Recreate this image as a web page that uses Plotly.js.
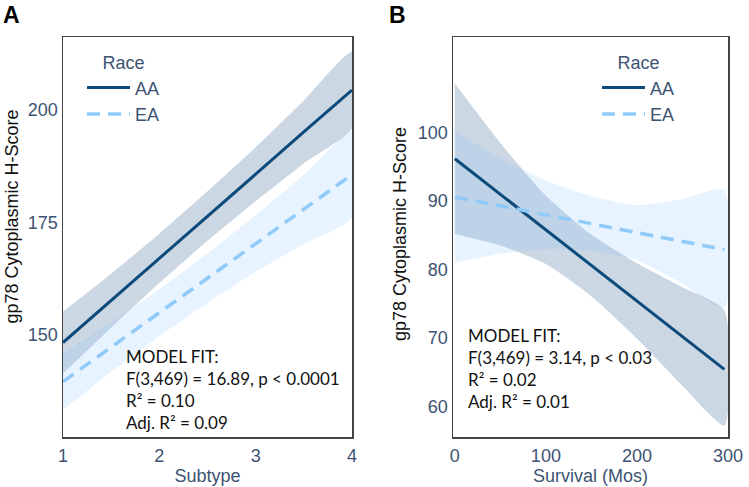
<!DOCTYPE html>
<html>
<head>
<meta charset="utf-8">
<script src="https://cdn.plot.ly/plotly-3.0.1.min.js"></script>
<style>
  html, body { margin: 0; padding: 0; background: #fff; }
  #chart { width: 749px; height: 487px; }
</style>
</head>
<body>
<div id="chart"></div>
<script>
// panel A: gp78 vs subtype
const subtype = [1, 1.5, 2, 2.5, 3, 3.5, 4];
const aaFitA = [148.3, 157.6, 167.0, 176.4, 185.7, 195.1, 204.4];
const aaHiA  = [155.2, 163.6, 172.5, 181.9, 191.7, 202.1, 212.9];
const aaLoA  = [141.4, 151.6, 161.5, 170.9, 179.7, 188.1, 195.9];
const eaFitA = [139.6, 147.3, 154.9, 162.6, 170.3, 177.9, 185.6];
const eaHiA  = [145.9, 152.8, 160.1, 168.1, 176.6, 185.6, 195.1];
const eaLoA  = [133.3, 141.8, 149.7, 157.1, 164.0, 170.2, 176.1];

// panel B: gp78 vs survival
const survival = [0, 50, 100, 150, 200, 250, 296];
const aaFitB = [96.2, 91.0, 85.8, 80.6, 75.4, 70.2, 65.4];
const aaHiB  = [107.2, 98.5, 90.8, 85.1, 80.9, 77.4, 74.0];
const aaLoB  = [85.2, 83.5, 80.8, 76.1, 69.9, 63.0, 57.2];
const eaFitB = [90.6, 89.3, 88.0, 86.7, 85.4, 84.1, 82.9];
const eaHiB  = [100.2, 96.3, 93.0, 90.7, 89.4, 90.3, 91.6];
const eaLoB  = [81.0, 82.3, 83.0, 82.7, 81.4, 77.9, 74.4];

const fitTextA = ['MODEL FIT:', 'F(3,469) = 16.89, p < 0.0001', 'R² = 0.10', 'Adj. R² = 0.09'];
const fitTextB = ['MODEL FIT:', 'F(3,469) = 3.14, p < 0.03', 'R² = 0.02', 'Adj. R² = 0.01'];
const yTitle = 'gp78 Cytoplasmic H-Score';

const AA_COLOR = '#0c4a7c';
const EA_COLOR = '#90caf9';
const AA_BAND = 'rgba(70,110,150,0.28)';
const EA_BAND = 'rgba(144,202,249,0.22)';
const TICK = '#3d5373';
const FONT = 'Liberation Sans, Arial';

function band(xs, hi, lo, color, xa, ya) {
  return {
    x: xs.concat(xs.slice().reverse()),
    y: hi.concat(lo.slice().reverse()),
    fill: 'toself', fillcolor: color,
    line: { width: 0, shape: 'spline', smoothing: 0.6 },
    mode: 'lines', hoverinfo: 'skip', showlegend: false,
    xaxis: xa, yaxis: ya
  };
}

function fitLine(xs, ys, name, color, dash, xa, ya, leg) {
  return {
    x: xs, y: ys, mode: 'lines', name: name,
    line: { color: color, width: dash ? 3.5 : 3, dash: dash || 'solid' },
    xaxis: xa, yaxis: ya, legend: leg
  };
}

const traces = [
  band(subtype, aaHiA, aaLoA, AA_BAND, 'x', 'y'),
  band(subtype, eaHiA, eaLoA, EA_BAND, 'x', 'y'),
  fitLine(subtype, aaFitA, 'AA', AA_COLOR, null, 'x', 'y', 'legend'),
  fitLine(subtype, eaFitA, 'EA', EA_COLOR, '13px,8px', 'x', 'y', 'legend'),
  band(survival, aaHiB, aaLoB, AA_BAND, 'x2', 'y2'),
  band(survival, eaHiB, eaLoB, EA_BAND, 'x2', 'y2'),
  fitLine(survival, aaFitB, 'AA', AA_COLOR, null, 'x2', 'y2', 'legend2'),
  fitLine(survival, eaFitB, 'EA', EA_COLOR, '13px,8px', 'x2', 'y2', 'legend2')
];

const axisBase = {
  showgrid: false, zeroline: false,
  showline: true, mirror: true, linecolor: '#444', linewidth: 1.5,
  ticks: '',
  tickfont: { family: FONT, size: 18, color: TICK }
};

function fitNote(lines, xref, yref, x, y) {
  return {
    xref: xref, yref: yref, x: x, y: y, xanchor: 'left', yanchor: 'top',
    align: 'left', showarrow: false,
    text: lines.join('<br>'),
    font: { family: 'Lato', size: 17, color: '#111' }
  };
}

function sideTitle(x, y) {
  return {
    xref: 'paper', yref: 'paper', x: x, y: y, xanchor: 'center', yanchor: 'middle',
    textangle: -90, showarrow: false, text: yTitle,
    font: { family: FONT, size: 18, color: '#111' }
  };
}

function legendBox(x) {
  return {
    x: x, y: 1 - 46 / 487, xanchor: 'left', yanchor: 'top',
    bgcolor: 'rgba(0,0,0,0)', itemwidth: 43, tracegroupgap: 0,
    title: { text: 'Race', side: 'top center', font: { family: FONT, size: 18, color: TICK } },
    font: { family: FONT, size: 18, color: TICK }
  };
}

const layout = {
  width: 749, height: 487,
  margin: { l: 0, r: 0, t: 0, b: 0 },
  paper_bgcolor: '#fff', plot_bgcolor: '#fff',
  showlegend: true,
  xaxis: Object.assign({}, axisBase, {
    domain: [63 / 749, 352 / 749], range: [1, 4], tickvals: [1, 2, 3, 4],
    anchor: 'y', ticklabelstandoff: 2,
    title: { text: 'Subtype', standoff: 4, font: { family: FONT, size: 18, color: TICK } }
  }),
  yaxis: Object.assign({}, axisBase, {
    domain: [1 - 437 / 487, 1 - 37 / 487], range: [127.3, 216.2], tickvals: [150, 175, 200],
    anchor: 'x', ticklabelstandoff: 0
  }),
  xaxis2: Object.assign({}, axisBase, {
    domain: [453 / 749, 728 / 749], range: [-2, 300], tickvals: [0, 100, 200, 300],
    anchor: 'y2', ticklabelstandoff: 2,
    title: { text: 'Survival (Mos)', standoff: 4, font: { family: FONT, size: 18, color: TICK } }
  }),
  yaxis2: Object.assign({}, axisBase, {
    domain: [1 - 437 / 487, 1 - 37 / 487], range: [55.5, 114], tickvals: [60, 70, 80, 90, 100],
    anchor: 'x2', ticklabelstandoff: 0
  }),
  legend: legendBox(82 / 749),
  legend2: legendBox(597 / 749),
  annotations: [
    sideTitle(11.5 / 749, 1 - 217 / 487),
    sideTitle(400 / 749, 1 - 234 / 487),
    fitNote(fitTextA, 'x', 'y', 1.633, 148.0),
    fitNote(fitTextB, 'x2', 'y2', 12, 72.2),
    { xref: 'paper', yref: 'paper', x: 1 / 749, y: 1 - 0 / 487, xanchor: 'left', yanchor: 'top',
      text: '<b>A</b>', showarrow: false, font: { family: FONT, size: 23, color: '#000' } },
    { xref: 'paper', yref: 'paper', x: 387 / 749, y: 1 - 0 / 487, xanchor: 'left', yanchor: 'top',
      text: '<b>B</b>', showarrow: false, font: { family: FONT, size: 23, color: '#000' } }
  ]
};

Plotly.newPlot('chart', traces, layout, { displayModeBar: false, staticPlot: true });
</script>
</body>
</html>
